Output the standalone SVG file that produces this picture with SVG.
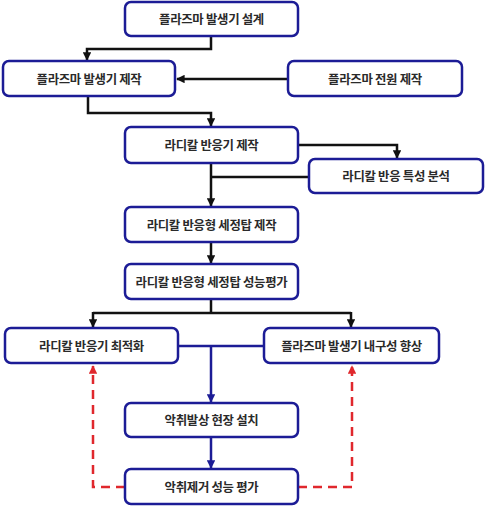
<svg xmlns="http://www.w3.org/2000/svg" width="485" height="507" viewBox="0 0 485 507">
<defs>
<style>
.box{fill:#fff;stroke:#1c1c96;stroke-width:2.5}
.t{font-family:"Noto Sans CJK KR","Noto Sans",sans-serif;font-size:12.4px;font-weight:bold;fill:#2a2a2a;text-anchor:middle;dominant-baseline:central;letter-spacing:-0.3px}
.k{fill:none;stroke:#111;stroke-width:2.5}
.b{fill:none;stroke:#1c1c96;stroke-width:2.5}
.r{fill:none;stroke:#e0282d;stroke-width:2.5;stroke-dasharray:9,6}
</style>
<marker id="ak" viewBox="0 0 10 10" refX="9" refY="5" markerWidth="3.4" markerHeight="3.4" orient="auto" markerUnits="strokeWidth"><path d="M0,0L10,5L0,10z" fill="#111"/></marker>
<marker id="ab" viewBox="0 0 10 10" refX="9" refY="5" markerWidth="3.4" markerHeight="3.4" orient="auto" markerUnits="strokeWidth"><path d="M0,0L10,5L0,10z" fill="#1c1c96"/></marker>
<marker id="ar" viewBox="0 0 10 10" refX="9" refY="5" markerWidth="3.4" markerHeight="3.4" orient="auto" markerUnits="strokeWidth"><path d="M0,0L10,5L0,10z" fill="#e0282d"/></marker>
</defs>
<rect width="485" height="507" fill="#fff"/>
<g id="connectors">
<path class="k" d="M211,36V49H87V60" marker-end="url(#ak)"/>
<path class="k" d="M288,79H177" marker-end="url(#ak)"/>
<path class="k" d="M88,96V113H211V126" marker-end="url(#ak)"/>
<path class="k" d="M298,145H397V158" marker-end="url(#ak)"/>
<path class="k" d="M211,163V206" marker-end="url(#ak)"/>
<path class="k" d="M309,177H211"/>
<path class="k" d="M211,242V263" marker-end="url(#ak)"/>
<path class="k" d="M211,299V313"/>
<path class="k" d="M93,313H351"/>
<path class="k" d="M93,312V327" marker-end="url(#ak)"/>
<path class="k" d="M351,312V327" marker-end="url(#ak)"/>
<path class="b" d="M178,346H264"/>
<path class="b" d="M211,346V402" marker-end="url(#ab)"/>
<path class="b" d="M211,437V468" marker-end="url(#ab)"/>
<path class="r" d="M125,487H93V366" marker-end="url(#ar)"/>
<path class="r" d="M298,487H352V366" marker-end="url(#ar)"/>
</g>
<g id="n1"><rect class="box" x="125" y="2" width="173" height="34" rx="6"/><text class="t" x="211.5" y="19">플라즈마 발생기 설계</text></g>
<g id="n2"><rect class="box" x="3" y="61" width="172" height="35" rx="6"/><text class="t" x="89" y="78.5">플라즈마 발생기 제작</text></g>
<g id="n3"><rect class="box" x="288" y="61" width="174" height="35" rx="6"/><text class="t" x="375" y="78.5">플라즈마 전원 제작</text></g>
<g id="n4"><rect class="box" x="125" y="127" width="173" height="36" rx="6"/><text class="t" x="211.5" y="145">라디칼 반응기 제작</text></g>
<g id="n5"><rect class="box" x="309" y="159" width="174" height="34" rx="6"/><text class="t" x="396" y="176">라디칼 반응 특성 분석</text></g>
<g id="n6"><rect class="box" x="125" y="207" width="173" height="35" rx="6"/><text class="t" x="211.5" y="224.5">라디칼 반응형 세정탑 제작</text></g>
<g id="n7"><rect class="box" x="125" y="264" width="173" height="35" rx="6"/><text class="t" x="211.5" y="281.5">라디칼 반응형 세정탑 성능평가</text></g>
<g id="n8"><rect class="box" x="5" y="328" width="173" height="35" rx="6"/><text class="t" x="91.5" y="345.5">라디칼 반응기 최적화</text></g>
<g id="n9"><rect class="box" x="264" y="328" width="175" height="35" rx="6"/><text class="t" x="351.5" y="345.5">플라즈마 발생기 내구성 향상</text></g>
<g id="n10"><rect class="box" x="125" y="403" width="173" height="34" rx="6"/><text class="t" x="211.5" y="420">악취발상 현장 설치</text></g>
<g id="n11"><rect class="box" x="125" y="469" width="173" height="35" rx="6"/><text class="t" x="211.5" y="486.5">악취제거 성능 평가</text></g>
</svg>
